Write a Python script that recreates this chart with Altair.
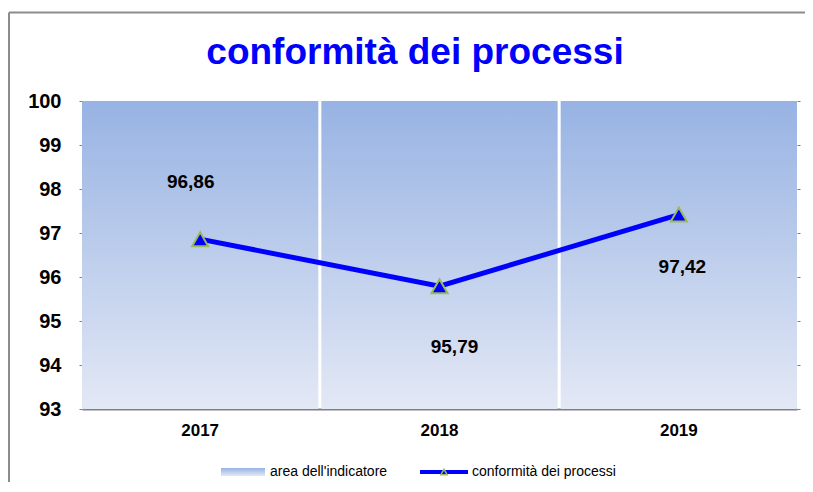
import altair as alt
import pandas as pd

# ---- data ----
years = ["2017", "2018", "2019"]
values = [96.86, 95.79, 97.42]
value_labels = ["96,86", "95,79", "97,42"]
area_bottom = [93, 93, 93]
area_top = [100, 100, 100]
y_ticks = [93, 94, 95, 96, 97, 98, 99, 100]
title_text = "conformità dei processi"
legend_labels = ["area dell'indicatore", "conformità dei processi"]

# label offsets (pixels) relative to each point
label_dx = [-9.5, 15, 3.5]
label_dy = [-57, 61, 52]

df = pd.DataFrame({
    "anno": years,
    "valore": values,
    "etichetta": value_labels,
    "basso": area_bottom,
    "alto": area_top,
})

FONT = "Liberation Sans"
BLUE = "#0000FF"
GREEN = "#9BBB59"
GRAY = "#808080"

gradient = alt.LinearGradient(
    gradient="linear",
    stops=[alt.GradientStop(color="#97B3E3", offset=0),
           alt.GradientStop(color="#E3E8F5", offset=1)],
    x1=0, x2=0, y1=0, y2=1,
)

x_enc = alt.X(
    "anno:N", sort=years,
    scale=alt.Scale(paddingInner=0.0126, paddingOuter=0),
    axis=alt.Axis(title=None, labelAngle=0, ticks=False, domainColor=GRAY,
                  domainWidth=2, labelFont=FONT, labelFontSize=17,
                  labelFontWeight="bold", labelColor="black", labelPadding=13),
)
y_scale = alt.Scale(domain=[93, 100], nice=False, zero=False)

left_axis = alt.Axis(title=None, values=y_ticks, grid=False, domain=False,
                     tickColor=GRAY, tickSize=3, labelFont=FONT,
                     labelFontSize=20, labelFontWeight="bold",
                     labelColor="black", labelPadding=18)
right_axis = alt.Axis(orient="right", title=None, values=y_ticks, grid=False,
                      domain=False, labels=False, tickColor=GRAY, tickSize=3)

base = alt.Chart(df)

bars = base.mark_bar(color=gradient).encode(
    x=x_enc,
    y=alt.Y("alto:Q", scale=y_scale, axis=left_axis),
    y2="basso:Q",
)

line = base.mark_line(color=BLUE, strokeWidth=5).encode(
    x=x_enc,
    y=alt.Y("valore:Q", scale=y_scale, axis=right_axis),
)

points = base.mark_point(shape="triangle-up", filled=True, fill=BLUE,
                         stroke=GREEN, strokeWidth=2, size=260,
                         opacity=1).encode(
    x=x_enc,
    y=alt.Y("valore:Q", scale=y_scale, axis=None),
)

texts = []
for i, yr in enumerate(years):
    texts.append(
        base.transform_filter(alt.datum.anno == yr).mark_text(
            dx=label_dx[i], dy=label_dy[i], font=FONT, fontSize=19,
            fontWeight="bold", color="black", align="center",
            baseline="middle",
        ).encode(
            x=x_enc,
            y=alt.Y("valore:Q", scale=y_scale, axis=None),
            text="etichetta:N",
        )
    )

one = alt.Data(values=[{"k": 1}])

# title as a text mark (positioned above the plot)
title_mark = alt.Chart(one).mark_text(
    text=title_text, font=FONT, fontSize=37, fontWeight="bold", color=BLUE,
    align="center", baseline="alphabetic").encode(
    x=alt.value(333), y=alt.value(-37))

# legend (drawn manually)
leg_swatch = alt.Chart(one).mark_rect(color=gradient).encode(
    x=alt.value(139), x2=alt.value(183), y=alt.value(367), y2=alt.value(375))
leg_text1 = alt.Chart(one).mark_text(
    text=legend_labels[0], font=FONT, fontSize=14, align="left",
    baseline="middle", color="black").encode(x=alt.value(188), y=alt.value(371))
leg_line = alt.Chart(one).mark_rule(color=BLUE, strokeWidth=4).encode(
    x=alt.value(338), x2=alt.value(386), y=alt.value(371))
leg_point = alt.Chart(one).mark_point(
    shape="triangle-up", filled=True, fill=BLUE, stroke=GREEN, strokeWidth=1.5,
    size=40, opacity=1).encode(x=alt.value(362), y=alt.value(371))
leg_text2 = alt.Chart(one).mark_text(
    text=legend_labels[1], font=FONT, fontSize=14, align="left",
    baseline="middle", color="black").encode(x=alt.value(390), y=alt.value(371))

# outer frame
frame_top = alt.Chart(one).mark_rule(color="#8C8C8C", strokeWidth=2).encode(
    x=alt.value(-73), x2=alt.value(740), y=alt.value(-88.5))
frame_left = alt.Chart(one).mark_rule(color="#8C8C8C", strokeWidth=2).encode(
    x=alt.value(-73), y=alt.value(-88.5), y2=alt.value(400))

chart = alt.layer(
    bars, line, points, *texts, title_mark,
    leg_swatch, leg_text1, leg_line, leg_point, leg_text2,
    frame_top, frame_left,
).resolve_axis(y="independent").properties(
    width=715,
    height=308,
    autosize=alt.AutoSizeParams(type="none"),
    padding={"left": 74, "top": 93, "right": 8, "bottom": 73},
    background="white",
).configure_view(strokeWidth=0)

chart.save("out.html", embed_options={"renderer": "svg", "actions": False})
